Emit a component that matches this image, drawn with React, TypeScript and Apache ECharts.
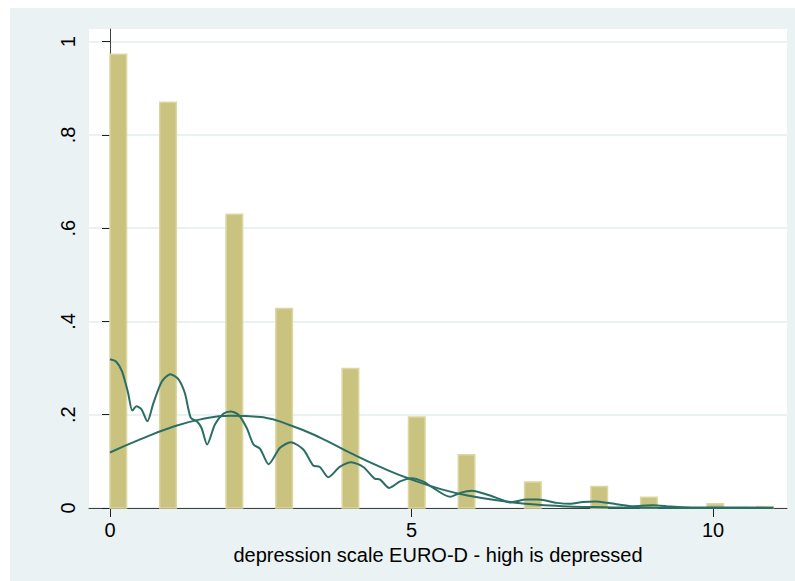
import React, { useEffect, useRef } from "react";
import * as echarts from "echarts";

// Histogram bins (start of each non-empty bin) and densities
const binWidth = 0.275;
const binStarts = [0, 0.825, 1.925, 2.75, 3.85, 4.95, 5.775, 6.875, 7.975, 8.8, 9.9, 10.725];
const binDensity = [0.973, 0.87, 0.63, 0.428, 0.299, 0.195, 0.114, 0.056, 0.046, 0.023, 0.009, 0.003];

// Smooth (normal-looking) density curve
const normalX = [0, 0.5, 1.0, 1.5, 2.0, 2.5, 3.0, 3.5, 4.0, 4.5, 5.0, 5.5, 6.0, 6.5, 7.0, 7.5, 8.0, 8.5, 9.0, 10.0, 11.0];
const normalY = [0.119, 0.147, 0.172, 0.19, 0.198, 0.195, 0.177, 0.15, 0.117, 0.087, 0.061, 0.04, 0.025, 0.015, 0.008, 0.004, 0.002, 0.001, 0.0005, 0.0001, 0];

// Wiggly kernel density curve
const kernelX = [0, 0.1, 0.2, 0.3, 0.37, 0.44, 0.52, 0.62, 0.72, 0.86, 1.0, 1.13, 1.24, 1.34, 1.44, 1.52, 1.61, 1.74, 1.88, 2.0, 2.13, 2.27, 2.38, 2.49, 2.63, 2.82, 3.0, 3.21, 3.37, 3.48, 3.62, 3.81, 4.0, 4.2, 4.39, 4.48, 4.63, 4.81, 5.0, 5.19, 5.36, 5.64, 5.82, 6.0, 6.25, 6.47, 6.63, 6.91, 7.1, 7.41, 7.63, 7.84, 8.05, 8.3, 8.65, 9.0, 9.3, 9.65, 10.2, 11.0];
const kernelY = [0.319, 0.314, 0.293, 0.247, 0.209, 0.218, 0.212, 0.186, 0.225, 0.271, 0.287, 0.277, 0.247, 0.193, 0.186, 0.171, 0.136, 0.179, 0.202, 0.207, 0.2, 0.171, 0.136, 0.127, 0.094, 0.129, 0.141, 0.125, 0.091, 0.088, 0.066, 0.088, 0.098, 0.088, 0.063, 0.061, 0.043, 0.057, 0.064, 0.057, 0.043, 0.024, 0.033, 0.037, 0.029, 0.019, 0.012, 0.018, 0.018, 0.011, 0.009, 0.013, 0.014, 0.01, 0.004, 0.006, 0.003, 0.001, 0.001, 0.0005];

const xTicks = [0, 5, 10];
const yTicks = [0, 0.2, 0.4, 0.6, 0.8, 1];
const xTitle = "depression scale EURO-D - high is depressed";

const FONT = "'Liberation Sans', Arial, sans-serif";
const LINE = "#2a6e64";

export default function App() {
  const ref = useRef<HTMLDivElement>(null);
  useEffect(() => {
    if (!ref.current) return;
    const chart = echarts.init(ref.current, undefined, { renderer: "svg" });
    const barData = binStarts.map((s, i) => [s, binDensity[i]]);
    chart.setOption({
      animation: false,
      backgroundColor: "#eaf2f3",
      grid: {
        left: 79,
        top: 21,
        right: 8,
        bottom: 73,
        show: true,
        backgroundColor: "#ffffff",
        borderWidth: 0,
      },
      xAxis: {
        type: "value",
        min: -0.348,
        max: 11.227,
        name: xTitle,
        nameLocation: "middle",
        nameGap: 33,
        nameTextStyle: { fontFamily: FONT, fontSize: 20, color: "#000" },
        axisLine: { show: true, onZero: false, lineStyle: { color: "#404040", width: 1 } },
        axisTick: { show: true, length: 9, customValues: xTicks, lineStyle: { color: "#202020", width: 1 } },
        axisLabel: {
          customValues: xTicks,
          margin: 12,
          fontFamily: FONT,
          fontSize: 20,
          color: "#000",
        },
        splitLine: { show: false },
      },
      yAxis: {
        type: "value",
        min: 0,
        max: 1.027,
        axisLine: { show: true, lineStyle: { color: "#404040", width: 1 } },
        axisTick: { show: true, length: 8, customValues: yTicks, lineStyle: { color: "#202020", width: 1 } },
        axisLabel: {
          customValues: yTicks,
          rotate: 90,
          margin: 11,
          fontFamily: FONT,
          fontSize: 20,
          color: "#000",
          formatter: (v: number) => {
            if (v === 0) return "0";
            if (v === 1) return "1";
            return String(Math.round(v * 10) / 10).replace(/^0/, "");
          },
        },
        splitLine: { show: true, lineStyle: { color: "#eaf1f3", width: 2 } },
      },
      series: [
        {
          type: "custom",
          data: barData,
          z: 2,
          renderItem: (params: any, api: any) => {
            const x0 = api.value(0);
            const h = api.value(1);
            const p1 = api.coord([x0, h]);
            const p2 = api.coord([x0 + binWidth, 0]);
            return {
              type: "rect",
              shape: { x: p1[0], y: p1[1], width: p2[0] - p1[0], height: p2[1] - p1[1] },
              style: { fill: "#cac27f", stroke: "#dcd7a2", lineWidth: 1.5 },
            };
          },
        },
        {
          type: "line",
          data: normalX.map((x, i) => [x, normalY[i]]),
          showSymbol: false,
          smooth: true,
          z: 3,
          lineStyle: { color: LINE, width: 2 },
        },
        {
          type: "line",
          data: kernelX.map((x, i) => [x, kernelY[i]]),
          showSymbol: false,
          smooth: 0.25,
          z: 4,
          lineStyle: { color: LINE, width: 2 },
        },
      ],
    });
    return () => chart.dispose();
  }, []);
  return (
    <div
      ref={ref}
      style={{ position: "fixed", left: 10, top: 8, width: 785, height: 573 }}
    />
  );
}
